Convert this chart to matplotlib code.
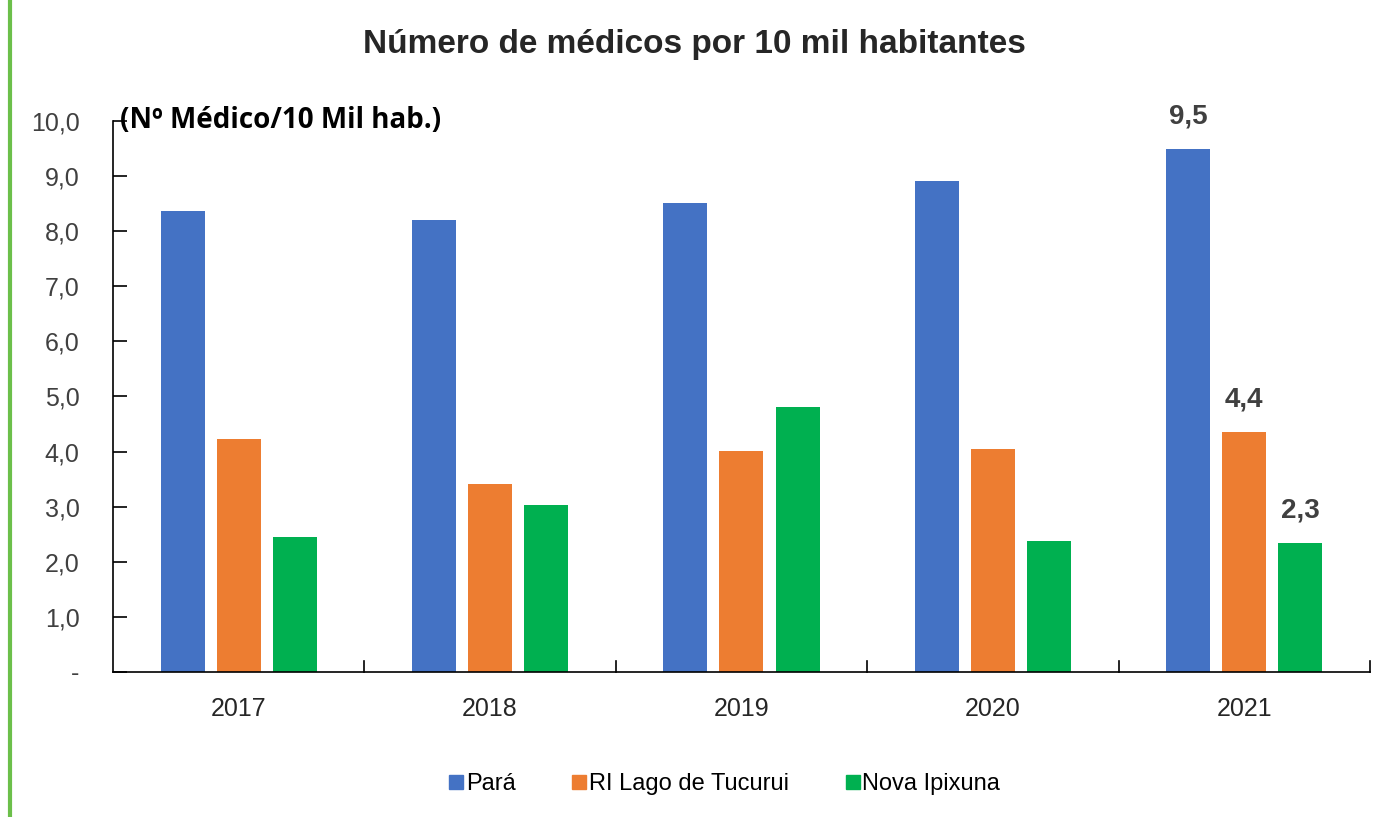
import matplotlib.pyplot as plt
import numpy as np
from matplotlib.lines import Line2D

# data
anos = ["2017", "2018", "2019", "2020", "2021"]
para = [8.37, 8.20, 8.51, 8.91, 9.49]
ri_tucurui = [4.23, 3.41, 4.01, 4.05, 4.36]
nova_ipixuna = [2.45, 3.03, 4.81, 2.38, 2.34]
series_names = ["Pará", "RI Lago de Tucurui", "Nova Ipixuna"]
cores = ["#4472C4", "#ED7D31", "#00B050"]
yticks = [0, 1, 2, 3, 4, 5, 6, 7, 8, 9, 10]
ytick_labels = ["-", "1,0", "2,0", "3,0", "4,0", "5,0", "6,0", "7,0", "8,0", "9,0", "10,0"]

fonte = ["Liberation Sans", "DejaVu Sans"]

fig = plt.figure(figsize=(13.76, 8.17), dpi=100)
ax = fig.add_axes([0.0821, 0.1775, 0.9135, 0.6744])

x = np.arange(len(anos))
largura = 0.175
passo = 0.223
for i, (vals, cor) in enumerate(zip([para, ri_tucurui, nova_ipixuna], cores)):
    ax.bar(x + (i - 1) * passo, vals, width=largura, color=cor, label=series_names[i])

# data labels only on the last year
ultimo = len(anos) - 1
for i, vals in enumerate([para, ri_tucurui, nova_ipixuna]):
    v = vals[ultimo]
    ax.text(ultimo + (i - 1) * passo, v + 0.35, f"{v:.1f}".replace(".", ","),
            ha="center", va="bottom", fontsize=20, fontweight="bold",
            color="#404040", family=fonte)

ax.set_xlim(-0.5, len(anos) - 0.5)
ax.set_ylim(0, 10)
ax.set_yticks(yticks)
ax.set_yticklabels(ytick_labels, family=fonte, fontsize=18, color="#404040")
ax.set_xticks(x)
ax.set_xticklabels(anos, family=fonte, fontsize=18, color="#262626")
ax.tick_params(axis="y", direction="in", length=10, width=1.2, pad=24)
ax.tick_params(axis="x", length=0, pad=18)
# category boundary ticks
for b in np.arange(0.5, len(anos), 1.0):
    ax.plot([b, b], [0, 0.2], color="black", lw=1.2, clip_on=False)

for s in ["top", "right"]:
    ax.spines[s].set_visible(False)
ax.spines["left"].set_linewidth(1.2)
ax.spines["bottom"].set_linewidth(1.2)

ax.text(-0.472, 10.0, "(Nº Médico/10 Mil hab.)",
        fontsize=20, fontweight="bold", family=["Open Sans", "DejaVu Sans"],
        va="center", ha="left")

fig.text(0.505, 0.945, "Número de médicos por 10 mil habitantes", ha="center", va="center",
         fontsize=24, fontweight="bold", family=fonte, color="#262626")

handles = [Line2D([], [], marker="s", ls="", color=c, markersize=10) for c in cores]
fig.legend(handles, series_names, loc="center", bbox_to_anchor=(0.524, 0.04), ncol=3,
           frameon=False, prop={"family": fonte, "size": 17}, handletextpad=-0.2,
           columnspacing=2.1, handlelength=1.2)

# green vertical bar at the left edge
fig.add_artist(Line2D([0.0075, 0.0075], [0, 1], transform=fig.transFigure, color="#6CBF4A", lw=3))

plt.savefig("out.png", dpi=100)
